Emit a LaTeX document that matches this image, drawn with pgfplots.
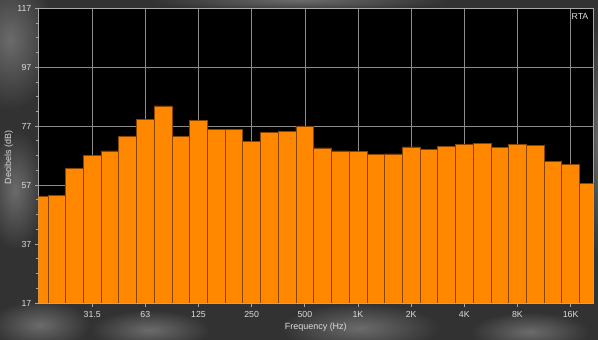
\documentclass[border=0pt]{standalone}
\usepackage{pgfplots}
\pgfplotsset{compat=1.18}
\usepackage{fontspec}
\setmainfont{Liberation Sans}
\usetikzlibrary{fadings}
\tikzfading[name=fade out, inner color=transparent!20, outer color=transparent!100]
\definecolor{bgbase}{HTML}{323232}
\definecolor{blob}{HTML}{7A7A7A}
\definecolor{barfill}{HTML}{FF8800}
\definecolor{baredge}{HTML}{8A4300}
\definecolor{gridc}{HTML}{8C8C8C}
\definecolor{axisc}{HTML}{A8A8A8}
\definecolor{labc}{HTML}{DCDCDC}
\pgfplotstableread{
idx db
0 53.1
1 53.4
2 62.6
3 67.0
4 68.6
5 73.4
6 79.4
7 83.9
8 73.6
9 78.9
10 75.8
11 76.0
12 71.9
13 75.0
14 75.2
15 76.8
16 69.6
17 68.6
18 68.4
19 67.5
20 67.6
21 70.0
22 69.2
23 70.1
24 70.9
25 71.1
26 69.9
27 70.9
28 70.6
29 65.0
30 63.9
31 57.5
}\rta
\begin{document}
\begin{tikzpicture}
\useasboundingbox (0,0) rectangle (598bp,340bp);
\fill[bgbase] (0,0) rectangle (598bp,340bp);
\begin{scope}
\clip (0,0) rectangle (598bp,340bp);
\fill[blob, path fading=fade out] (10bp,300bp) ellipse (45bp and 70bp);
\fill[blob, path fading=fade out] (15bp,150bp) ellipse (30bp and 60bp);
\fill[blob, path fading=fade out] (40bp,15bp) ellipse (50bp and 25bp);
\fill[blob, path fading=fade out] (150bp,10bp) ellipse (60bp and 20bp);
\fill[blob, path fading=fade out] (360bp,12bp) ellipse (80bp and 25bp);
\fill[blob, path fading=fade out] (530bp,8bp) ellipse (60bp and 20bp);
\fill[blob, path fading=fade out] (300bp,340bp) ellipse (150bp and 12bp);
\fill[blob, path fading=fade out] (598bp,200bp) ellipse (12bp and 120bp);
\end{scope}
\begin{axis}[
  at={(38.3bp,37bp)}, anchor=south west,
  scale only axis, width=555bp, height=294.7bp,
  xmin=-0.04, xmax=31.28, ymin=17, ymax=117,
  ytick={17,37,57,77,97,117}, minor y tick num=3,
  xtick={3,6,9,12,15,18,21,24,27,30},
  xticklabels={31.5,63,125,250,500,1K,2K,4K,8K,16K},
  xtick pos=left, ytick pos=left,
  tick align=outside,
  major tick length=3.5bp, minor tick length=2.5bp,
  tick style={draw=axisc, line width=0.7bp},
  minor tick style={draw=axisc, line width=0.9bp},
  axis background/.style={fill=black},
  xmajorgrids, ymajorgrids,
  major grid style={draw=gridc, line width=0.6bp},
  axis line style={draw=axisc, line width=0.9bp},
  /pgf/number format/assume math mode=true,
  ticklabel style={font=\fontsize{8.8}{10}\selectfont, text=labc},
  xticklabel style={yshift=-1bp},
  xlabel={Frequency (Hz)}, ylabel={Decibels (dB)},
  xlabel style={at={(axis description cs:0.5,-0.081)}, anchor=center, font=\fontsize{9}{10}\selectfont, text=labc},
  ylabel style={at={(axis description cs:-0.053,0.495)}, anchor=center, font=\fontsize{9}{10}\selectfont, text=labc},
]
\addplot[ybar, bar width=1, fill=barfill, draw=baredge, line width=0.6bp] table[x=idx, y=db] {\rta};
\node[anchor=north east, font=\fontsize{8.8}{10}\selectfont, text=labc, inner sep=2bp] at (rel axis cs:0.995,0.99) {RTA};
\end{axis}
\end{tikzpicture}
\end{document}
